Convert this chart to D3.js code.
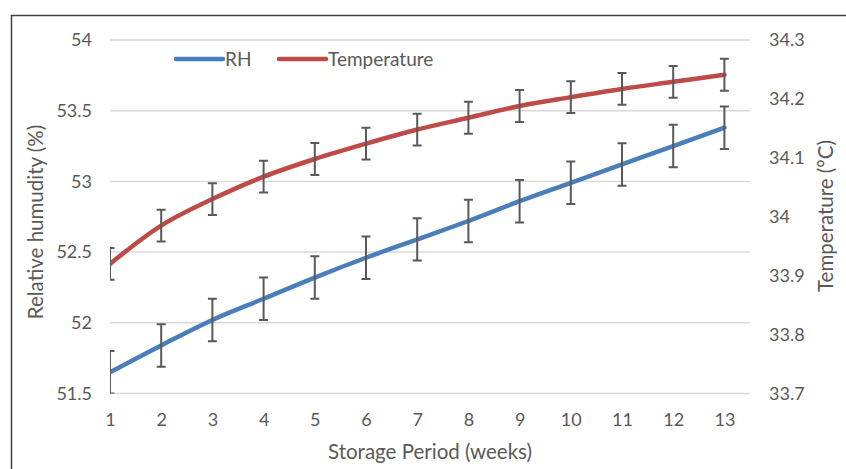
<!DOCTYPE html>
<html>
<head>
<meta charset="utf-8">
<script src="https://cdn.jsdelivr.net/npm/d3@7"></script>
<style>
  body { margin: 0; background: #fff; }
  text { font-family: Lato, "Open Sans", sans-serif; fill: #595959; }
</style>
</head>
<body>
<div id="chart"></div>
<script>
var weeks = [1, 2, 3, 4, 5, 6, 7, 8, 9, 10, 11, 12, 13];
var rh = [51.65, 51.84, 52.02, 52.17, 52.32, 52.46, 52.59, 52.72, 52.86, 52.99, 53.12, 53.25, 53.38];
var rhErr = [0.15, 0.15, 0.15, 0.15, 0.15, 0.15, 0.15, 0.15, 0.15, 0.15, 0.15, 0.15, 0.15];
var temp = [33.92, 33.985, 34.03, 34.068, 34.098, 34.124, 34.148, 34.168, 34.188, 34.203, 34.217, 34.229, 34.241];
var tempErr = [0.027, 0.027, 0.027, 0.027, 0.027, 0.027, 0.027, 0.027, 0.027, 0.027, 0.027, 0.027, 0.027];
var leftTicks = [51.5, 52, 52.5, 53, 53.5, 54];
var rightTicks = [33.7, 33.8, 33.9, 34, 34.1, 34.2, 34.3];

var svgWidth = 846;
var svgHeight = 469;
var plot = {left: 110, right: 750, top: 40, bottom: 393.5};
var font = "Lato, 'Open Sans', sans-serif";

var svg = d3.select("#chart")
	.append("svg")
	.attr("width", svgWidth)
	.attr("height", svgHeight);

// chart frame (only left and top edges show in the picture)
svg.append("path")
	.attr("d", "M11.5," + svgHeight + "V15.5H" + svgWidth)
	.attr("fill", "none")
	.attr("stroke", "#404040")
	.attr("stroke-width", 1.5);

var x = d3.scaleLinear()
	.domain([1, 13.5])
	.range([plot.left, plot.right]);

var yL = d3.scaleLinear()
	.domain([51.5, 54])
	.range([plot.bottom, plot.top]);

var yR = d3.scaleLinear()
	.domain([33.7, 34.3])
	.range([plot.bottom, plot.top]);

svg.append("defs").append("clipPath")
	.attr("id", "clip")
	.append("rect")
	.attr("x", plot.left)
	.attr("y", plot.top - 1)
	.attr("width", plot.right - plot.left)
	.attr("height", plot.bottom - plot.top + 1);

// gridlines
svg.append("g")
	.selectAll("line")
	.data(leftTicks)
	.enter().append("line")
	.attr("x1", plot.left)
	.attr("x2", plot.right)
	.attr("y1", function(d) { return yL(d); })
	.attr("y2", function(d) { return yL(d); })
	.attr("stroke", "#d9d9d9")
	.attr("stroke-width", 1.5);

// axes
var axL = svg.append("g")
	.attr("transform", "translate(" + plot.left + ",0)")
	.call(d3.axisLeft(yL).tickValues(leftTicks).tickSize(0).tickPadding(18).tickFormat(d3.format("")));
var axR = svg.append("g")
	.attr("transform", "translate(" + plot.right + ",0)")
	.call(d3.axisRight(yR).tickValues(rightTicks).tickSize(0).tickPadding(19).tickFormat(d3.format("")));
var axB = svg.append("g")
	.attr("transform", "translate(0," + plot.bottom + ")")
	.call(d3.axisBottom(x).tickValues(weeks).tickSize(0).tickPadding(20).tickFormat(d3.format("d")));

[axL, axR, axB].forEach(function(a) {
	a.select(".domain").remove();
	a.selectAll("text").attr("font-size", 18).attr("fill", "#595959")
		.style("font-family", font);
});

var series = [
	{name: "RH", values: rh, err: rhErr, y: yL, color: "#4a7ebb"},
	{name: "Temperature", values: temp, err: tempErr, y: yR, color: "#be4b48"}
];

var marks = svg.append("g").attr("clip-path", "url(#clip)");

series.forEach(function(s) {
	var line = d3.line()
		.curve(d3.curveCatmullRom.alpha(0.5))
		.x(function(d, i) { return x(weeks[i]); })
		.y(function(d) { return s.y(d); });

	marks.append("path")
		.datum(s.values)
		.attr("fill", "none")
		.attr("stroke", s.color)
		.attr("stroke-width", 4.5)
		.attr("stroke-linecap", "round")
		.attr("stroke-linejoin", "round")
		.attr("d", line);
});

// error bars on top of the lines
series.forEach(function(s) {
	var g = marks.append("g")
		.attr("stroke", "#595959")
		.attr("stroke-width", 2);
	s.values.forEach(function(v, i) {
		var cx = x(weeks[i]);
		var y1 = s.y(v + s.err[i]);
		var y2 = s.y(v - s.err[i]);
		g.append("line").attr("x1", cx).attr("x2", cx).attr("y1", y1).attr("y2", y2);
		g.append("line").attr("x1", cx - 4.5).attr("x2", cx + 4.5).attr("y1", y1).attr("y2", y1);
		g.append("line").attr("x1", cx - 4.5).attr("x2", cx + 4.5).attr("y1", y2).attr("y2", y2);
	});
});

// legend
var legend = svg.append("g").attr("transform", "translate(0,59)");
var legendX = [176, 279];
series.forEach(function(s, i) {
	legend.append("line")
		.attr("x1", legendX[i]).attr("x2", legendX[i] + 47)
		.attr("y1", 0).attr("y2", 0)
		.attr("stroke", s.color)
		.attr("stroke-width", 4.5)
		.attr("stroke-linecap", "round");
	legend.append("text")
		.attr("x", legendX[i] + 49)
		.attr("y", 6.5)
		.attr("font-size", 19)
		.text(s.name);
});

// axis titles
svg.append("text")
	.attr("transform", "translate(43,222) rotate(-90)")
	.attr("text-anchor", "middle")
	.attr("font-size", 20.5)
	.text("Relative humudity (%)");

svg.append("text")
	.attr("transform", "translate(833,216) rotate(-90)")
	.attr("text-anchor", "middle")
	.attr("font-size", 20.5)
	.text("Temperature (°C)");

svg.append("text")
	.attr("x", 430)
	.attr("y", 459)
	.attr("text-anchor", "middle")
	.attr("font-size", 20.5)
	.text("Storage Period (weeks)");
</script>
</body>
</html>
